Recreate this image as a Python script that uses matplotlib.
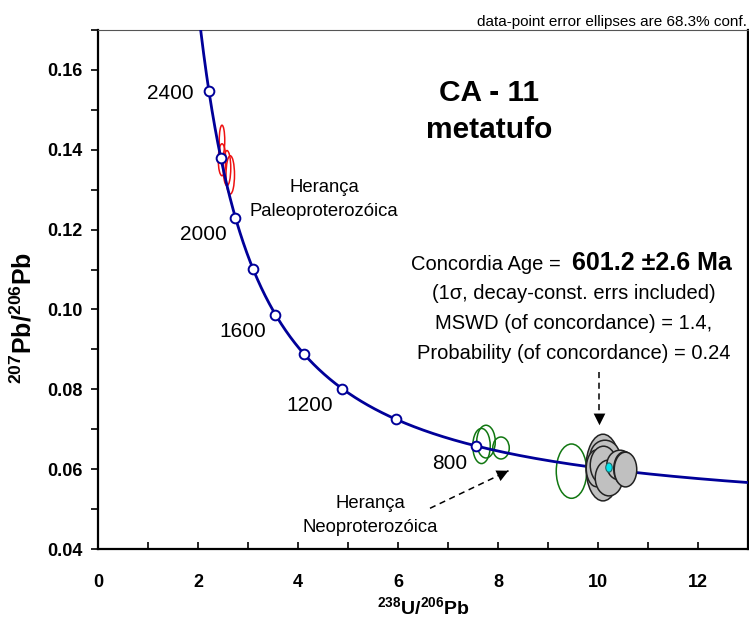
import numpy as np
import matplotlib
matplotlib.use('Agg')
import matplotlib.pyplot as plt
from matplotlib.patches import Ellipse
from matplotlib.ticker import MultipleLocator, FormatStrFormatter

plt.rcParams['font.family'] = ['Liberation Sans', 'DejaVu Sans']
plt.rcParams['mathtext.fontset'] = 'custom'
plt.rcParams['mathtext.rm'] = 'Liberation Sans:bold'
plt.rcParams['mathtext.bf'] = 'Liberation Sans:bold'

# decay constants (per year) and 238U/235U
L238 = 1.55125e-10
L235 = 9.8485e-10
U_RATIO = 137.88

# concordia marker ages (Ma) and which ones get a label
marker_ages = [600, 800, 1000, 1200, 1400, 1600, 1800, 2000, 2200, 2400]
label_ages = [2400, 2000, 1600, 1200, 800]

# inherited zircons, Paleoproterozoic (x, y, width, height)
red_x = [2.48, 2.48, 2.58, 2.645]
red_y = [0.1423, 0.1375, 0.1354, 0.1337]
red_w = [0.11, 0.15, 0.15, 0.17]
red_h = [0.0077, 0.0080, 0.0088, 0.0096]

# inherited zircons, Neoproterozoic
green_x = [7.67, 7.76, 8.06, 9.47]
green_y = [0.0658, 0.0669, 0.0653, 0.0595]
green_w = [0.35, 0.37, 0.33, 0.61]
green_h = [0.0088, 0.0082, 0.0055, 0.0136]

# analyses used for the concordia age
gray_x = [10.10, 10.14, 9.97, 10.11, 10.22, 10.44, 10.53, 10.55]
gray_y = [0.0604, 0.0631, 0.0602, 0.0610, 0.0578, 0.0610, 0.0601, 0.0599]
gray_w = [0.68, 0.60, 0.41, 0.53, 0.55, 0.53, 0.43, 0.45]
gray_h = [0.0167, 0.0083, 0.0092, 0.0095, 0.0090, 0.0075, 0.0085, 0.0087]

# concordia age ellipse
age_x, age_y, age_w, age_h = 10.22, 0.0604, 0.13, 0.0023


def concordia(t_ma):
    t = np.asarray(t_ma) * 1e6
    e238 = np.exp(L238 * t) - 1
    e235 = np.exp(L235 * t) - 1
    return 1 / e238, e235 / e238 / U_RATIO


def main():
    fig = plt.figure(figsize=(7.49, 6.26), dpi=100)
    ax = fig.add_axes([98 / 749, 77 / 626, 650 / 749, 519 / 626])

    navy = '#000099'

    for x, y, w, h in zip(red_x, red_y, red_w, red_h):
        ax.add_patch(Ellipse((x, y), w, h, fill=False, edgecolor='#ee1111', lw=1.1, zorder=2))
    for x, y, w, h in zip(green_x, green_y, green_w, green_h):
        ax.add_patch(Ellipse((x, y), w, h, fill=False, edgecolor='#117711', lw=1.1, zorder=2))

    cx, cy = concordia(np.linspace(470, 2600, 600))
    ax.plot(cx, cy, color=navy, lw=2.0, zorder=3)
    mx, my = concordia(marker_ages)
    ax.plot(mx, my, 'o', ms=7, mfc='white', mec=navy, mew=1.4, zorder=4)

    for x, y, w, h in zip(gray_x, gray_y, gray_w, gray_h):
        ax.add_patch(Ellipse((x, y), w, h, facecolor='#c0c0c0', edgecolor='#222222', lw=1.1, zorder=5))
    ax.add_patch(Ellipse((age_x, age_y), age_w, age_h, facecolor='#00e5ee', edgecolor='#226666', lw=0.8, zorder=6))

    lx, ly = concordia(label_ages)
    for age, x, y in zip(label_ages, lx, ly):
        off = (-15, -3) if age == 2400 else (-9, -17)
        ax.annotate(str(age), (x, y), xytext=off, textcoords='offset pixels',
                    ha='right', va='center', fontsize=15)

    ax.text(7.82, 0.1543, 'CA - 11', ha='center', va='center', fontsize=21.5, fontweight='bold')
    ax.text(7.82, 0.1450, 'metatufo', ha='center', va='center', fontsize=21.5, fontweight='bold')

    ax.text(9.37, 0.1098, 'Concordia Age = ', ha='right', va='baseline', fontsize=14.5)
    ax.text(9.49, 0.1098, '601.2 \u00b12.6 Ma', ha='left', va='baseline', fontsize=18, fontweight='bold')
    ax.text(9.51, 0.1039, '(1\u03c3, decay-const. errs included)', ha='center', va='center', fontsize=14.5)
    ax.text(9.51, 0.0964, 'MSWD (of concordance) = 1.4,', ha='center', va='center', fontsize=14.5)
    ax.text(9.51, 0.0889, 'Probability (of concordance) = 0.24', ha='center', va='center', fontsize=14.5)

    ax.text(4.52, 0.1305, 'Herança', ha='center', va='center', fontsize=13.3)
    ax.text(4.52, 0.1245, 'Paleoproterozóica', ha='center', va='center', fontsize=13.3)
    ax.text(5.44, 0.0515, 'Herança', ha='center', va='center', fontsize=13.3)
    ax.text(5.44, 0.0455, 'Neoproterozóica', ha='center', va='center', fontsize=13.3)

    # dashed arrows
    arrows = [((6.64, 0.0502), (8.21, 0.0596)), ((10.03, 0.0843), (10.03, 0.0710))]
    for tail, tip in arrows:
        ax.plot([tail[0], tip[0]], [tail[1], tip[1]], color='black', lw=1.1,
                linestyle=(0, (4, 3)), zorder=7)
        ax.annotate('', xy=tip, xytext=tail,
                    arrowprops=dict(arrowstyle='-|>,head_length=0.7,head_width=0.35',
                                    mutation_scale=12, color='black', lw=0,
                                    shrinkA=0, shrinkB=0), zorder=7)

    ax.set_xlim(0, 13)
    ax.set_ylim(0.04, 0.17)
    ax.xaxis.set_major_locator(MultipleLocator(2))
    ax.xaxis.set_minor_locator(MultipleLocator(1))
    ax.yaxis.set_major_locator(MultipleLocator(0.02))
    ax.yaxis.set_minor_locator(MultipleLocator(0.01))
    ax.yaxis.set_major_formatter(FormatStrFormatter('%.2f'))
    ax.tick_params(axis='x', which='both', direction='in', length=5, width=1.2, pad=18,
                   labelsize=13, top=False)
    ax.tick_params(axis='y', which='both', direction='out', length=5, width=1.2, pad=6,
                   labelsize=13, right=False)
    for lab in ax.get_xticklabels() + ax.get_yticklabels():
        lab.set_fontweight('bold')

    for side in ['left', 'bottom', 'right']:
        ax.spines[side].set_linewidth(1.6)
    ax.spines['top'].set_linewidth(0.8)
    ax.spines['top'].set_color('#555555')

    fig.text(423 / 749, 1 - 608 / 626, r'$^{238}$U/$^{206}$Pb', ha='center', va='center',
             fontsize=14, fontweight='bold')
    fig.text(23 / 749, 1 - 318 / 626, r'$^{207}$Pb/$^{206}$Pb', ha='center', va='center',
             fontsize=18, fontweight='bold', rotation=90)
    fig.text(747 / 749, 1 - 22 / 626, 'data-point error ellipses are 68.3% conf.',
             ha='right', va='center', fontsize=11)

    fig.savefig('out.png', dpi=100)


if __name__ == '__main__':
    main()
